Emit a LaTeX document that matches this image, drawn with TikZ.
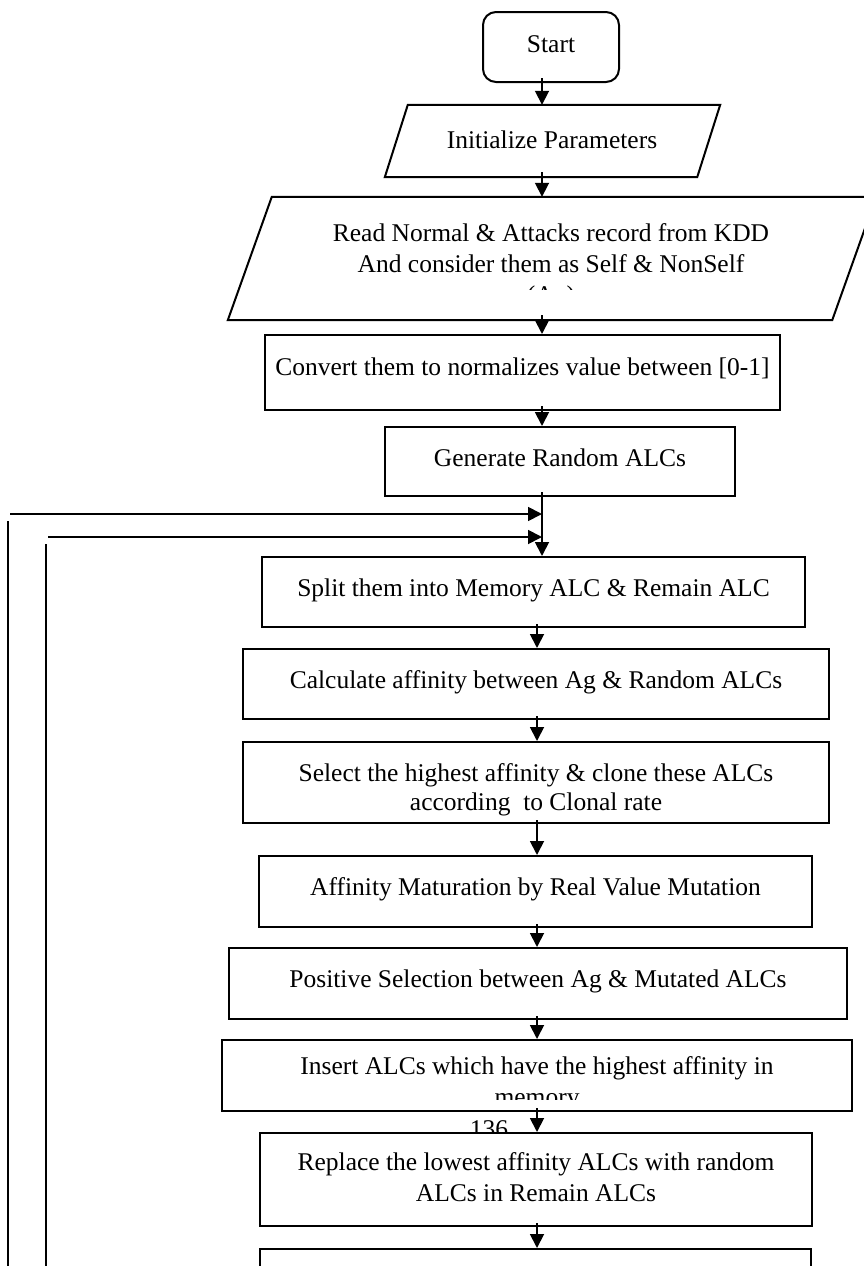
\documentclass[tikz,border=0pt]{standalone}
\usepackage{fontspec}
\setmainfont{Liberation Serif}
\usetikzlibrary{arrows.meta,calc}
\begin{document}
\begin{tikzpicture}[x=1pt,y=-1pt,
  stepbox/.style={draw, line width=2pt, fill=white, inner sep=0pt, rectangle},
  slantframe/.style={inner sep=0pt, draw=none, rectangle},
  slantline/.style={line width=2pt, fill=white, line join=miter},
  txt/.style={inner sep=0pt, font=\fontsize{25.5}{31}\selectfont, anchor=base},
  flow/.style={line width=1.8pt, -{Triangle[length=14pt,width=14pt]}},
  wire/.style={line width=1.8pt}]
\useasboundingbox (0,0) rectangle (863,1266);

% page number, partly hidden behind the replace box
\node[txt] (pagenum) at (489,1137) {136};

% start terminal
\node[stepbox, rounded corners=13pt, minimum width=136pt, minimum height=70pt] (start) at (551,47) {};
\node[txt] (start-t) at (551,52) {Start};

% input parallelograms
\node[slantframe, minimum width=312pt, minimum height=72pt] (init) at (552.5,141) {};
\draw[slantline] ([xshift=11.5pt]init.north west) -- ([xshift=11.5pt]init.north east)
  -- ([xshift=-11.5pt]init.south east) -- ([xshift=-11.5pt]init.south west) -- cycle;
\node[txt] (init-t) at (552,148) {Initialize Parameters};

\node[slantframe, minimum width=604pt, minimum height=123pt] (read) at (552,258.5) {};
\draw[slantline] ([xshift=22pt]read.north west) -- ([xshift=22pt]read.north east)
  -- ([xshift=-22pt]read.south east) -- ([xshift=-22pt]read.south west) -- cycle;
\begin{scope}
  \clip (200,197) rectangle (880,289);
  \node[txt] (read-a) at (551,241) {Read Normal \& Attacks record from KDD};
  \node[txt] (read-b) at (551,272) {And consider them as Self \& NonSelf};
  \node[txt] (read-c) at (551,303) {(Ag)};
\end{scope}

% process steps
\node[stepbox, minimum width=515pt, minimum height=75pt] (convert) at (522.5,372.5) {};
\node[txt] (convert-t) at (522.5,375) {Convert them to normalizes value between [0-1]};

\node[stepbox, minimum width=350pt, minimum height=69pt] (generate) at (560,461.5) {};
\node[txt] (generate-t) at (560,466) {Generate Random ALCs};

\node[stepbox, minimum width=543pt, minimum height=70pt] (split) at (533.5,592) {};
\node[txt] (split-t) at (533.5,596) {Split them into Memory ALC \& Remain ALC};

\node[stepbox, minimum width=586pt, minimum height=70pt] (calc) at (536,684) {};
\node[txt] (calc-t) at (536,688) {Calculate affinity between Ag \& Random ALCs};

\node[stepbox, minimum width=586pt, minimum height=81pt] (select) at (536,782.5) {};
\node[txt] (select-a) at (536,781) {Select the highest affinity \& clone these ALCs};
\node[txt] (select-b) at (536,810) {according~ to Clonal rate};

\node[stepbox, minimum width=553pt, minimum height=71pt] (mature) at (535.5,891.5) {};
\node[txt] (mature-t) at (535.5,895) {Affinity Maturation by Real Value Mutation};

\node[stepbox, minimum width=618pt, minimum height=71pt] (positive) at (538,983.5) {};
\node[txt] (positive-t) at (538,987) {Positive Selection between Ag \& Mutated ALCs};

\node[stepbox, minimum width=630pt, minimum height=71pt] (insert) at (537,1075.5) {};
\begin{scope}
  \clip (222,1040) rectangle (852,1099);
  \node[txt] (insert-a) at (537,1074) {Insert ALCs which have the highest affinity in};
  \node[txt] (insert-b) at (537,1105) {memory};
\end{scope}

\node[stepbox, minimum width=552pt, minimum height=93pt] (replace) at (536,1179.5) {};
\node[txt] (replace-a) at (536,1170) {Replace the lowest affinity ALCs with random};
\node[txt] (replace-b) at (536,1201) {ALCs in Remain ALCs};

\node[stepbox, minimum width=551pt, minimum height=71pt] (next) at (535.5,1284.5) {};

% main flow axes
\coordinate (axisU) at (542,0);
\coordinate (axisL) at (537,0);

\draw[flow] ($(start.south -| axisU)+(0,-5)$) -- (init.north -| axisU);
\draw[flow] ($(init.south -| axisU)+(0,-5)$) -- (read.north -| axisU);
\draw[flow] ($(read.south -| axisU)+(0,-5)$) -- (convert.north -| axisU);
\draw[flow] ($(convert.south -| axisU)+(0,-5)$) -- (generate.north -| axisU);
\draw[flow] ($(generate.south -| axisU)+(0,-5)$) -- (split.north -| axisU);

\draw[flow] ($(split.south -| axisL)+(0,-4)$) -- (calc.north -| axisL);
\draw[flow] ($(calc.south -| axisL)+(0,-4)$) -- (select.north -| axisL);
\draw[flow] ($(select.south -| axisL)+(0,-4)$) -- (mature.north -| axisL);
\draw[flow] ($(mature.south -| axisL)+(0,-4)$) -- (positive.north -| axisL);
\draw[flow] ($(positive.south -| axisL)+(0,-4)$) -- (insert.north -| axisL);
\draw[flow] ($(insert.south -| axisL)+(0,-4)$) -- (replace.north -| axisL);
\draw[flow] ($(replace.south -| axisL)+(0,-4)$) -- (next.north -| axisL);

% feedback lines entering the main flow from the left
\coordinate (outerStart) at (10,514);
\coordinate (outerJoin) at (542,514);
\coordinate (outerTop) at (8,521);
\coordinate (outerBottom) at (8,1270);
\coordinate (innerStart) at (48,537);
\coordinate (innerJoin) at (542,537);
\coordinate (innerTop) at (46,544);
\coordinate (innerBottom) at (46,1270);

\draw[flow] (outerStart) -- (outerJoin);
\draw[flow] (innerStart) -- (innerJoin);
\draw[wire] (outerTop) -- (outerBottom);
\draw[wire] (innerTop) -- (innerBottom);
\end{tikzpicture}
\end{document}
